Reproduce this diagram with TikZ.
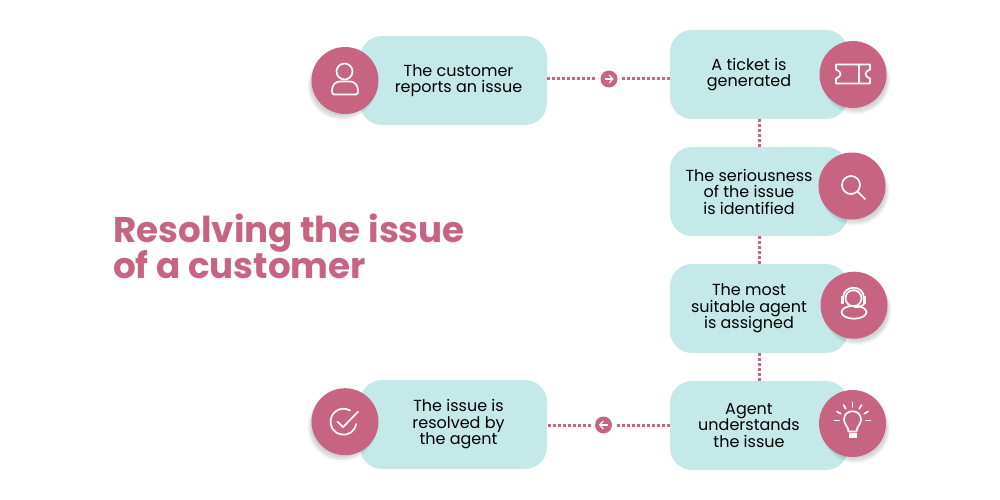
\documentclass[tikz,border=0pt]{standalone}
\usepackage{fontspec}
\setmainfont{Poppins}
\usepackage{xcolor}
\usepackage{tikz}
\usetikzlibrary{arrows.meta, positioning, shadows}
\definecolor{rosepink}{RGB}{198, 100, 130}
\definecolor{paleteal}{RGB}{197, 232, 233}

\begin{document}
\begin{tikzpicture}[
      x=1pt, y=-1pt,
      node distance=28pt,
      box/.style={rounded corners=22pt, fill=paleteal, minimum width=178pt,
                  minimum height=89pt, text width=178pt, inner sep=0pt, outer sep=0pt,
                  align=flush center, font=\fontsize{16}{16.5}\selectfont},
      leftbox/.style={box, minimum width=187pt, text width=187pt,
                  execute at begin node={\leftskip=10pt plus 1fil}},
      rightbox/.style={box, execute at begin node={\rightskip=20pt plus 1fil}},
      iconcirc/.style={circle, fill=rosepink, minimum size=67pt, inner sep=0pt, outer sep=0pt,
                  drop shadow={shadow xshift=#1, shadow yshift=-5pt, fill=black, opacity=.03, shadow scale=1.03},
                  drop shadow={shadow xshift=#1, shadow yshift=-5pt, fill=black, opacity=.04, shadow scale=1},
                  drop shadow={shadow xshift=#1, shadow yshift=-5pt, fill=black, opacity=.05, shadow scale=.97},
                  drop shadow={shadow xshift=#1, shadow yshift=-4pt, fill=black, opacity=.06, shadow scale=.94}},
      arrdot/.style={circle, fill=rosepink, minimum size=17pt, inner sep=0pt, outer sep=0pt},
      dotline/.style={rosepink, line width=3pt, dash pattern=on 3pt off 2pt},
      icon/.style={white, line width=1.7pt, line cap=round, line join=round},
      usericon/.pic={
        \draw[icon] (-0.5,-9) circle[radius=8];
        \draw[icon] (-11,14) .. controls (-13,14) and (-13,12) .. (-13,10)
          .. controls (-13,4) and (-9,1) .. (-5,1) -- (5,1)
          .. controls (9,1) and (13,4) .. (13,10)
          .. controls (13,12) and (13,14) .. (11,14) -- cycle;},
      ticketicon/.pic={
        \draw[icon] (-17,-10) -- (17,-10) -- (17,-5) .. controls (11,-3) and (11,2) .. (17,4)
          -- (17,9) -- (-17,9) -- (-17,4) .. controls (-11,2) and (-11,-3) .. (-17,-5) -- cycle;
        \draw[icon] (6,-10) -- (6,9);},
      searchicon/.pic={
        \draw[icon] (-1,-1) circle[radius=9];
        \draw[icon] (5.5,5.5) -- (13,13);},
      agenticon/.pic={
        \draw[icon] (-0.5,-7) circle[radius=8];
        \draw[icon] (-11,-7) .. controls (-11,-21) and (10,-21) .. (10,-7);
        \draw[icon, fill=white] (-12.5,-8) rectangle (-10.5,-2);
        \draw[icon, fill=white] (9.5,-8) rectangle (11.5,-2);
        \draw[icon] (10.5,-2) .. controls (9,1) and (5,2) .. (1,2);
        \draw[icon] (0,7) ellipse[x radius=12.5, y radius=6.5];},
      bulbicon/.pic={
        \draw[icon] (-4,8) .. controls (-4,3) and (-8.5,1) .. (-8.5,-4)
          .. controls (-8.5,-15) and (8.5,-15) .. (8.5,-4)
          .. controls (8.5,1) and (4,3) .. (4,8) -- cycle;
        \fill[white] (-4,9) rectangle (4,14);
        \foreach \a in {-180,-150,-120,-90,-60,-30,0}
          \draw[icon] (0,-3) ++(\a:13.5) -- ++(\a:4.5);},
      checkicon/.pic={
        \draw[icon] (11.3,2.3) arc[start angle=10, end angle=300, radius=13];
        \draw[icon] (-7.5,0) -- (-2,5.5) -- (13,-10);}
    ]
    \useasboundingbox (0,0) rectangle (1000,500);

    \node[font=\fontsize{35.7}{36}\selectfont\bfseries, text=rosepink, align=left, anchor=north west,
          inner sep=0pt] (title) at (113,214) {Resolving the issue\\[-3pt]of a customer};

    \node[rightbox] (ticket) at (759,74.5) {A ticket is\\generated};
    \node[rightbox, below=of ticket] (serious) {The seriousness\\of the issue\\is identified};
    \node[rightbox, below=of serious] (agent) {The most\\suitable agent\\is assigned};
    \node[rightbox, below=of agent] (understand) {Agent\\understands\\the issue};
    \node[leftbox] (report) at (453.5,80.5) {The customer\\reports an issue};
    \node[leftbox] (resolved) at (453.5,424.5) {The issue is\\resolved by\\the agent};

    \node[iconcirc=-3pt, left=-18.5pt of report] (reportc) {};
    \node[iconcirc=-3pt, left=-18.5pt of resolved, yshift=2.8pt] (resolvedc) {};
    \node[iconcirc=3pt, right=-28.5pt of ticket] (ticketc) {};
    \node[iconcirc=3pt, right=-29.5pt of serious, yshift=5.5pt] (seriousc) {};
    \node[iconcirc=3pt, right=-27.5pt of agent, yshift=3.3pt] (agentc) {};
    \node[iconcirc=3pt, right=-29pt of understand, yshift=2pt] (understandc) {};

    \node[arrdot] (arrone) at (609,79) {};
    \node[arrdot] (arrtwo) at (603.5,425) {};

    \draw[dotline] (arrone -| report.east) -- ([xshift=-4pt]arrone.west);
    \draw[dotline] ([xshift=4pt]arrone.east) -- (arrone -| ticket.west);
    \draw[dotline] (ticket) -- (serious);
    \draw[dotline] (serious) -- (agent);
    \draw[dotline] (agent) -- (understand);
    \draw[dotline] (arrtwo -| understand.west) -- ([xshift=4pt]arrtwo.east);
    \draw[dotline] ([xshift=-4pt]arrtwo.west) -- (arrtwo -| resolved.east);

    \draw[white, line width=1.2pt, -{Straight Barb[length=3.5pt,width=8pt]}]
      ([xshift=-4.5pt]arrone.center) -- ([xshift=4.5pt]arrone.center);
    \draw[white, line width=1.2pt, -{Straight Barb[length=3.5pt,width=8pt]}]
      ([xshift=4.5pt]arrtwo.center) -- ([xshift=-4.5pt]arrtwo.center);

    \pic at (reportc) {usericon};
    \pic at (ticketc) {ticketicon};
    \pic at (seriousc) {searchicon};
    \pic at (agentc) {agenticon};
    \pic at (understandc) {bulbicon};
    \pic at (resolvedc) {checkicon};
  \end{tikzpicture}
\end{document}
